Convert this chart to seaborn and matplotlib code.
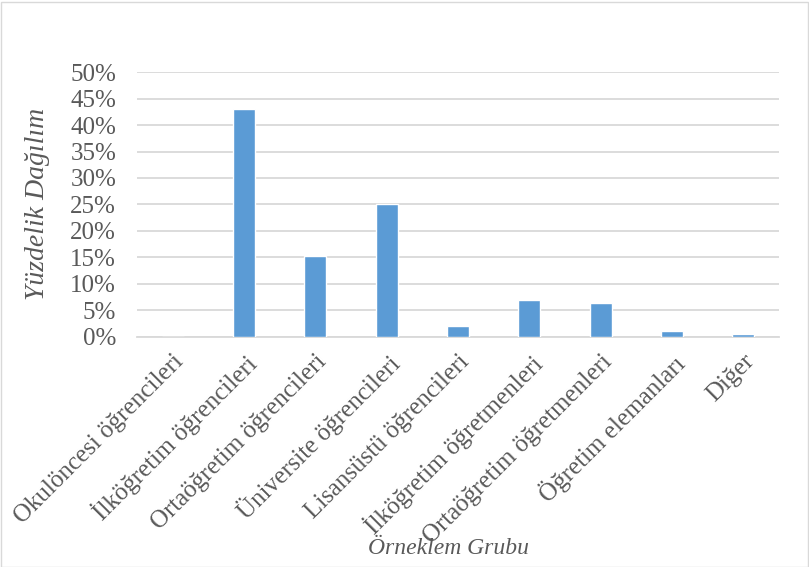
import matplotlib
matplotlib.use("Agg")
import matplotlib.pyplot as plt
import seaborn as sns
import pandas as pd
from matplotlib.ticker import PercentFormatter

categories = ["Okulöncesi öğrencileri", "İlköğretim öğrencileri", "Ortaöğretim öğrencileri",
              "Üniversite öğrencileri", "Lisansüstü öğrencileri", "İlköğretim öğretmenleri",
              "Ortaöğretim öğretmenleri", "Öğretim elemanları", "Diğer"]
values = [0.0, 43.0, 15.3, 25.1, 2.0, 6.9, 6.4, 1.0, 0.5]

df = pd.DataFrame({"cat": categories, "val": values})

sns.set_theme(style="white")
plt.rcParams['font.family'] = ['Liberation Serif', 'DejaVu Serif']

fig = plt.figure(figsize=(8.09, 5.67), dpi=100)
ax = fig.add_axes([137/809, 1-336.5/567, (779-137)/809, (336.5-72.3)/567])

sns.barplot(data=df, x="cat", y="val", color="#5B9BD5", width=0.31, ax=ax, zorder=3, saturation=1)

ax.set_ylim(0, 50)
ax.set_yticks(range(0, 51, 5))
ax.yaxis.set_major_formatter(PercentFormatter(decimals=0))
ax.grid(axis="y", color="#D9D9D9", linewidth=1.3, zorder=0)
for s in ["top", "right", "left"]:
    ax.spines[s].set_visible(False)
ax.spines["bottom"].set_color("#D9D9D9")
ax.spines["bottom"].set_linewidth(1.3)
ax.tick_params(axis="both", length=0, colors="#595959", labelsize=18)
ax.tick_params(axis="y", pad=15)
plt.setp(ax.get_xticklabels(), rotation=45, ha="right", rotation_mode="anchor")
ax.tick_params(axis="x", pad=10)
ax.set_xlim(-0.5, len(categories) - 0.5)

ax.set_xlabel("Örneklem Grubu", fontsize=17, style="italic", color="#595959", labelpad=0)
ax.xaxis.set_label_coords((448-137)/(779-137), (336.5-538)/(336.5-72.3), transform=ax.transAxes)
ax.set_ylabel("Yüzdelik Dağılım", fontsize=20, style="italic", color="#595959")
ax.yaxis.set_label_coords((50-137)/(779-137), 0.5)

fig.patches.append(plt.Rectangle((0.5/809, 0.5/567), 807/809, 565/567, transform=fig.transFigure,
                                 fill=False, edgecolor="#D9D9D9", linewidth=1))
fig.savefig("out.png", dpi=100)
